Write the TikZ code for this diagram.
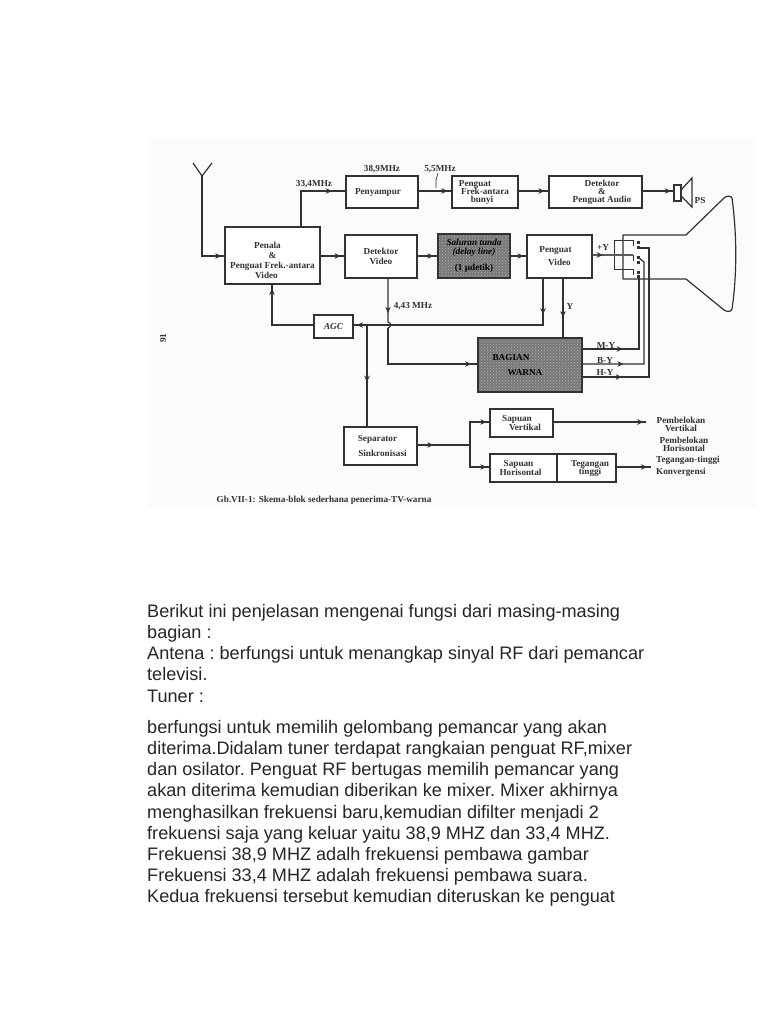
\documentclass[tikz,border=0pt]{standalone}
\usepackage{fontspec}
\setmainfont{Liberation Sans}
\newfontfamily\scanfont{Liberation Serif}
\usetikzlibrary{arrows.meta, decorations.markings, patterns}
\definecolor{inkgray}{RGB}{50,50,50}
\definecolor{scanbg}{RGB}{251,251,250}
\definecolor{darkfill}{RGB}{120,120,120}
\definecolor{dotfill}{RGB}{175,175,175}
\lineskiplimit=-20pt
\normallineskiplimit=-20pt
\tikzset{
  block/.style={rectangle, draw=inkgray, fill=white, line width=1.3pt, inner sep=0pt,
    align=center, font=\fontsize{9.2}{8}\scanfont\bfseries, text=inkgray},
  darkblock/.style={block, preaction={fill=darkfill}, pattern=crosshatch dots, pattern color=dotfill, text=black},
  wire/.style={draw=inkgray, line width=1.2pt},
  fatwire/.style={draw=inkgray!80, line width=2pt},
  tinytext/.style={font=\fontsize{9.2}{8}\scanfont\bfseries, text=inkgray, inner sep=0pt, align=center},
  bodytext/.style={anchor=north west, align=left, inner sep=0pt, font=\fontsize{18.1}{21.2}\selectfont\frenchspacing, text=black!85},
  tipat/.style={postaction={decorate, decoration={markings,
    mark=at position #1 with {\arrow[inkgray, line width=0.6pt]{Stealth[length=6pt, width=5.5pt]}}}}}
}
\begin{document}
\begin{tikzpicture}[x=1pt, y=-1pt]
  \useasboundingbox (0,0) rectangle (768,1024);
  \fill[white] (0,0) rectangle (768,1024);
  \fill[scanbg] (148,138) rectangle (756,508);

  % Blocks of the upper row
  \node[block, minimum width=95pt, minimum height=57pt] (penala) at (272.5,255.5) {\rule{0pt}{16pt}Penala\hspace*{10pt}\\[2pt]\&\hspace*{10pt}\\[2pt]Penguat Frek.-antara\\[2pt]Video\hspace*{12pt}};
  \node[block, minimum width=72pt, minimum height=32pt] (penyampur) at (382,192) {Penyampur\hspace*{8pt}};
  \node[block, minimum width=66pt, minimum height=32pt] (frekbunyi) at (485,192) {Penguat\hspace*{20pt}\\Frek-antara\\bunyi\hspace*{6pt}};
  \node[block, minimum width=93pt, minimum height=32pt] (detaudio) at (595.5,192) {\hspace*{13pt}Detektor\\\hspace*{13pt}\&\\\hspace*{13pt}Penguat Audio};
  \node[block, minimum width=72pt, minimum height=43pt] (detvideo) at (381,256.5) {Detektor\\[2pt]Video};
  \node[darkblock, minimum width=72pt, minimum height=44pt] (tunda) at (474,256) {\textit{Saluran tunda}\\[1pt]\textit{(delay line)}\\[8pt](1 µdetik)};
  \node[block, minimum width=65pt, minimum height=43pt] (pengvideo) at (559.5,256.5) {Penguat\hspace*{8pt}\\[5pt]Video};

  % Blocks of the lower rows
  \node[block, minimum width=39pt, minimum height=23pt] (agc) at (333.5,326.5) {\textit{AGC}};
  \node[darkblock, minimum width=104pt, minimum height=54pt] (warna) at (530,365) {BAGIAN\hspace*{38pt}\\[7pt]WARNA\hspace*{10pt}};
  \node[block, minimum width=73pt, minimum height=38pt] (separator) at (380.5,446) {Separator\hspace*{6pt}\\[7pt]\hspace*{4pt}Sinkronisasi};
  \node[block, minimum width=63pt, minimum height=28pt] (vertikal) at (521.5,423) {Sapuan\hspace*{9pt}\\[1pt]\hspace*{7pt}Vertikal};
  \node[block, minimum width=67pt, minimum height=28pt] (horisontal) at (523.5,468) {Sapuan\hspace*{10pt}\\[1pt]Horisontal\hspace*{6pt}};
  \node[block, minimum width=59pt, minimum height=28pt] (tegangan) at (586.5,468) {\hspace*{7pt}Tegangan\\\hspace*{7pt}tinggi};

  % Antenna
  \coordinate (antfoot) at (202,176);
  \coordinate (antbend) at (202,256);
  \coordinate (antl) at (193,163);
  \coordinate (antr) at (212,163);
  \draw[wire] (antl) -- (antfoot) -- (antr);
  \draw[wire, tipat=0.97] (antfoot) -- (antbend) -- (penala.west |- antbend);

  % Upper signal path
  \coordinate (mix) at (301,191);
  \draw[wire, tipat=0.83] (penala.north -| mix) -- (mix) -- (penyampur.west |- mix);
  \draw[wire, tipat=0.88] (penyampur.east |- mix) -- (frekbunyi.west |- mix);
  \draw[wire, tipat=0.87] (frekbunyi.east |- mix) -- (detaudio.west |- mix);
  \coordinate (spkin) at (674,191);
  \draw[wire, tipat=0.9] (detaudio.east |- mix) -- (spkin);
  \draw[wire, tipat=0.84] (penala.east |- antbend) -- (detvideo.west |- antbend);
  \draw[wire, tipat=0.8] (detvideo.east |- antbend) -- (tunda.west |- antbend);
  \draw[wire, tipat=0.82] (tunda.east |- antbend) -- (pengvideo.west |- antbend);

  % Small tap under the 5,5MHz label
  \coordinate (taptop) at (438,173);
  \coordinate (tapmid) at (436,180);
  \coordinate (tapend) at (436,188);
  \draw[draw=inkgray, line width=0.7pt] (taptop) -- (tapmid) -- (tapend);

  % Speaker
  \draw[wire, fill=white] (674,185) rectangle (681,201);
  \draw[wire] (681,190) -- (692,178) -- (692,207) -- (681,196);

  % Picture tube
  \draw[wire, line join=round] (623,235) -- (686,235) -- (724,198) .. controls (727,195) and (731,196) .. (732,198)
    .. controls (737,235) and (737,275) .. (732,309) .. controls (731,312) and (727,312) .. (724,310)
    -- (686,279) -- (623,279) -- cycle;
  \coordinate (gridmid) at (633,255);
  \coordinate (gridtop) at (633,240);
  \coordinate (gridbot) at (633,269);
  \draw[draw=inkgray, line width=1pt] (633,246) -- (gridtop) -- (614,240) -- (614,269) -- (gridbot) -- (633,275);
  \draw[fatwire, tipat=0.25] (pengvideo.east |- gridmid) -- (gridmid);
  \draw[draw=inkgray, line width=1pt] (gridmid) -- (633,261);
  \foreach \y in {241,246,256,261,271,275} {
    \fill[inkgray] (637,\y) rectangle (640,\y+2.5);
  }

  % Colour difference signals
  \coordinate (mytube) at (639,276);
  \coordinate (bytube) at (644,262);
  \coordinate (hytube) at (649,248);
  \coordinate (mybend) at (639,349);
  \coordinate (bybend) at (644,364);
  \coordinate (hybend) at (649,377);
  \draw[wire, tipat=0.31] (warna.east |- mybend) -- (mybend) -- (mytube);
  \draw[wire, tipat=0.24] (warna.east |- bybend) -- (bybend) -- (bytube) -- (639,258);
  \draw[wire, tipat=0.19] (warna.east |- hybend) -- (hybend) -- (hytube) -- (639,248);

  % Luminance and sync paths
  \coordinate (bus) at (543,325);
  \coordinate (ytap) at (563,278);
  \coordinate (chroma) at (388,364);
  \coordinate (humpa) at (388,322);
  \coordinate (humpb) at (388,328);
  \coordinate (synctap) at (367,325);
  \draw[wire, tipat=0.16] (pengvideo.south -| bus) -- (bus) -- (synctap);
  \draw[wire, tipat=0.75] (synctap) -- (agc.east |- synctap);
  \draw[wire, tipat=0.66] (ytap) -- (warna.north -| ytap);
  \draw[wire, tipat=0.66] (detvideo.south -| chroma) -- (humpa) .. controls (391.5,323) and (391.5,327) .. (humpb);
  \draw[wire, tipat=0.95] (humpb) -- (chroma) -- (warna.west |- chroma);
  \coordinate (agcup) at (272,325);
  \draw[wire, tipat=0.95] (agc.west |- agcup) -- (agcup) -- (penala.south -| agcup);
  \draw[wire, tipat=0.56] (synctap) -- (separator.north -| synctap);
  \coordinate (syncout) at (470,445);
  \coordinate (vertin) at (470,422);
  \coordinate (horin) at (470,467);
  \draw[wire, tipat=0.3] (separator.east |- syncout) -- (syncout);
  \draw[wire, tipat=0.93] (syncout) -- (vertin) -- (vertikal.west |- vertin);
  \draw[wire, tipat=0.93] (syncout) -- (horin) -- (horisontal.west |- horin);
  \coordinate (vertend) at (646,422);
  \coordinate (tegend) at (651,467);
  \draw[wire, tipat=0.97] (vertikal.east |- vertend) -- (vertend);
  \draw[wire, tipat=0.88] (tegangan.east |- tegend) -- (tegend);

  % Labels
  \node[tinytext] (l334) at (314,184) {33,4MHz};
  \node[tinytext] (l389) at (382,169) {38,9MHz};
  \node[tinytext] (l55) at (440,169) {5,5MHz};
  \node[tinytext] (l443) at (413,306) {4,43 MHz};
  \node[tinytext] (lps) at (700,200) {PS};
  \node[tinytext] (lpy) at (603,247) {+Y};
  \node[tinytext] (ly) at (570,306) {Y};
  \node[tinytext] (lmy) at (606,345) {M-Y};
  \node[tinytext] (lby) at (605,360) {B-Y};
  \node[tinytext] (lhy) at (605,372) {H-Y};
  \node[tinytext] (lpv) at (681,424.5) {Pembelokan\\Vertikal};
  \node[tinytext] (lph) at (684,444) {Pembelokan\\Horisontal};
  \node[tinytext] (lteg) at (688,460) {Tegangan-tinggi};
  \node[tinytext] (lkon) at (681,472) {Konvergensi};
  \node[tinytext] (lcap) at (324,500) {Gb.VII-1: Skema-blok sederhana penerima-TV-warna};
  \node[tinytext, rotate=90] (lpage) at (163,338) {91};

  % Text below the figure
  \node[bodytext] (para1) at (147,604) {Berikut ini penjelasan mengenai fungsi dari masing-masing\\bagian :\\Antena : berfungsi untuk menangkap sinyal RF dari pemancar\\televisi.\\Tuner :};
  \node[bodytext] (para2) at (147,720) {berfungsi untuk memilih gelombang pemancar yang akan\\diterima.Didalam tuner terdapat rangkaian penguat RF,mixer\\dan osilator. Penguat RF bertugas memilih pemancar yang\\akan diterima kemudian diberikan ke mixer. Mixer akhirnya\\menghasilkan frekuensi baru,kemudian difilter menjadi 2\\frekuensi saja yang keluar yaitu 38,9 MHZ dan 33,4 MHZ.\\Frekuensi 38,9 MHZ adalh frekuensi pembawa gambar\\Frekuensi 33,4 MHZ adalah frekuensi pembawa suara.\\Kedua frekuensi tersebut kemudian diteruskan ke penguat};
\end{tikzpicture}
\end{document}
